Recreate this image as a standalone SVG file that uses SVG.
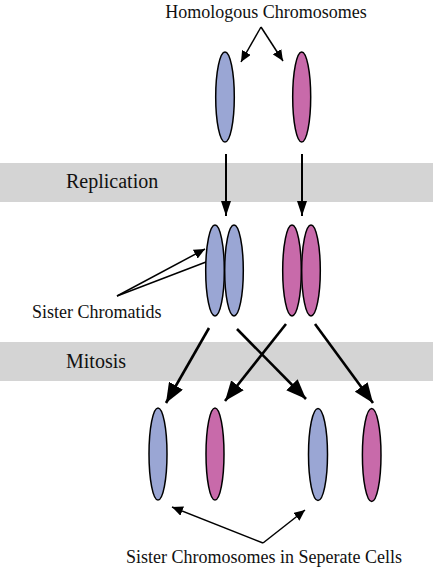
<svg xmlns="http://www.w3.org/2000/svg" width="433" height="577" viewBox="0 0 433 577">
<style>
.lbl{font-family:"Liberation Serif","Times New Roman",serif;fill:#111;}
.band{fill:#d4d4d4;}
.b{fill:#9aa6d4;stroke:#000;stroke-width:1.5;}
.p{fill:#c86aaa;stroke:#000;stroke-width:1.5;}
.thin{stroke:#000;stroke-width:1.5;fill:none;}
.mid{stroke:#000;stroke-width:2;fill:none;}
.thick{stroke:#000;stroke-width:2.6;fill:none;}
</style>
<defs>
<marker id="hs" markerUnits="userSpaceOnUse" markerWidth="12" markerHeight="10" viewBox="0 0 12 10" refX="11" refY="5" orient="auto"><path d="M0,0 L11,5 L0,10 Z" fill="#000"/></marker>
<marker id="hm" markerUnits="userSpaceOnUse" markerWidth="16" markerHeight="10" viewBox="0 0 16 10" refX="15" refY="5" orient="auto"><path d="M0,0 L15,5 L0,10 Z" fill="#000"/></marker>
<marker id="hl" markerUnits="userSpaceOnUse" markerWidth="20" markerHeight="16" viewBox="0 0 20 16" refX="20" refY="8" orient="auto"><path d="M0,0 L20,8 L0,16 Z" fill="#000"/></marker>
</defs>
<rect width="433" height="577" fill="#fff"/>
<g id="bands">
<rect class="band" x="0" y="163" width="433" height="39"/>
<rect class="band" x="0" y="342" width="433" height="39"/>
</g>
<g id="labels">
<text class="lbl" x="266" y="18" font-size="18" text-anchor="middle">Homologous Chromosomes</text>
<text class="lbl" x="66" y="188" font-size="20">Replication</text>
<text class="lbl" x="66" y="368" font-size="20">Mitosis</text>
<text class="lbl" x="32" y="318" font-size="18">Sister Chromatids</text>
<text class="lbl" x="264" y="563" font-size="18" text-anchor="middle">Sister Chromosomes in Seperate Cells</text>
</g>
<g id="connectors">
<line class="thin" x1="261" y1="27" x2="241" y2="62" marker-end="url(#hs)"/>
<line class="thin" x1="261" y1="27" x2="283" y2="61" marker-end="url(#hs)"/>
<line class="mid" x1="226" y1="154" x2="226" y2="216" marker-end="url(#hm)"/>
<line class="mid" x1="302" y1="154" x2="302" y2="216" marker-end="url(#hm)"/>
<line class="thin" x1="117" y1="296" x2="205" y2="249" marker-end="url(#hs)"/>
<line class="thin" x1="117" y1="296" x2="206" y2="262"/>
<line class="thick" x1="209" y1="328" x2="166" y2="403" marker-end="url(#hl)"/>
<line class="thick" x1="237" y1="329" x2="306" y2="399" marker-end="url(#hl)"/>
<line class="thick" x1="286" y1="324" x2="225" y2="401" marker-end="url(#hl)"/>
<line class="thick" x1="315" y1="324" x2="373" y2="403" marker-end="url(#hl)"/>
<line class="thin" x1="263" y1="543" x2="172" y2="507" marker-end="url(#hs)"/>
<line class="thin" x1="263" y1="543" x2="305" y2="510" marker-end="url(#hs)"/>
</g>
<g id="homolog-blue"><ellipse class="b" cx="225" cy="97" rx="9.3" ry="45"/></g>
<g id="homolog-pink"><ellipse class="p" cx="301.7" cy="97" rx="9" ry="45"/></g>
<g id="chromatids-blue">
<ellipse class="b" cx="215" cy="270.5" rx="9.3" ry="45.5"/>
<ellipse class="b" cx="234" cy="270.5" rx="9.3" ry="45.5"/>
</g>
<g id="chromatids-pink">
<ellipse class="p" cx="292" cy="270.5" rx="9.3" ry="45.5"/>
<ellipse class="p" cx="311" cy="270.5" rx="9.3" ry="45.5"/>
</g>
<g id="cell1-blue"><ellipse class="b" cx="158" cy="454" rx="9" ry="46"/></g>
<g id="cell1-pink"><ellipse class="p" cx="215" cy="454" rx="9" ry="46"/></g>
<g id="cell2-blue"><ellipse class="b" cx="318" cy="454.5" rx="9.5" ry="46"/></g>
<g id="cell2-pink"><ellipse class="p" cx="371.7" cy="455" rx="9.3" ry="46.5"/></g>
</svg>
